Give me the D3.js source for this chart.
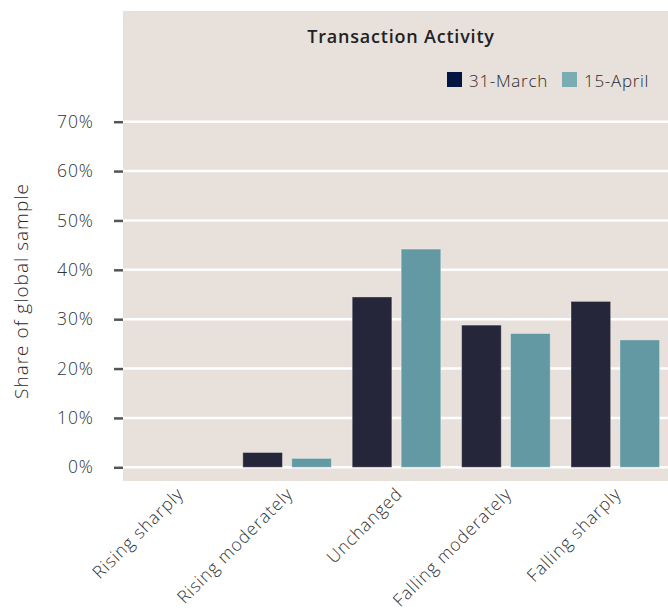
<!DOCTYPE html>
<html>
<head>
<meta charset="utf-8">
<script src="https://cdn.jsdelivr.net/npm/d3@7"></script>
<style>
  body { margin: 0; background: #fff; }
  text { font-family: "Open Sans", Lato, sans-serif; font-weight: 300; }
</style>
</head>
<body>
<script>
// data
var categories = ["Rising sharply", "Rising moderately", "Unchanged", "Falling moderately", "Falling sharply"];
var seriesNames = ["31-March", "15-April"];
var march31 = [0, 3.0, 34.5, 28.8, 33.6];
var april15 = [0, 1.8, 44.2, 27.1, 25.8];
var yTicks = [0, 10, 20, 30, 40, 50, 60, 70];

var width = 668, height = 612;
var panel = {left: 123, right: 668, top: 11, bottom: 481};

var barColor = {"31-March": "#25263a", "15-April": "#6399a3"};
var legendColor = {"31-March": "#011640", "15-April": "#7bacb4"};

var svg = d3.select("body")
    .append("svg")
    .attr("width", width)
    .attr("height", height);

// background panel
svg.append("rect")
    .attr("x", panel.left)
    .attr("y", panel.top)
    .attr("width", panel.right - panel.left)
    .attr("height", panel.bottom - panel.top)
    .style("fill", "#e7e0db");

var x0 = d3.scaleBand()
    .domain(categories)
    .range([123, 670])
    .paddingInner(0.19)
    .paddingOuter(0.095);

var x1 = d3.scaleBand()
    .domain(seriesNames)
    .range([0, x0.bandwidth()])
    .paddingInner(0.19);

var y = d3.scaleLinear()
    .domain([0, 70])
    .range([467.3, 121.7]);

// gridlines
svg.selectAll(".grid")
    .data(yTicks)
    .enter()
    .append("line")
    .attr("class", "grid")
    .attr("x1", panel.left)
    .attr("x2", panel.right)
    .attr("y1", function(d) { return y(d); })
    .attr("y2", function(d) { return y(d); })
    .style("stroke", "#ffffff")
    .style("stroke-width", 2.5);

// y axis
var yAxis = svg.append("g")
    .attr("transform", "translate(" + panel.left + ",0)")
    .call(d3.axisLeft(y)
        .tickValues(yTicks)
        .tickSize(9)
        .tickPadding(20)
        .tickFormat(function(d) { return d + "%"; }));

yAxis.select(".domain").remove();
yAxis.selectAll(".tick line")
    .style("stroke", "#555")
    .style("stroke-width", 2.5);
yAxis.selectAll(".tick text")
    .style("font-family", "'Open Sans', sans-serif")
    .style("font-weight", 300)
    .style("font-size", "17.5px")
    .style("letter-spacing", "1px")
    .style("fill", "#333");

svg.append("text")
    .attr("transform", "translate(28,291) rotate(-90)")
    .style("text-anchor", "middle")
    .style("font-size", "19px")
    .style("letter-spacing", "1px")
    .style("fill", "#2a2a2a")
    .text("Share of global sample");

// bars
var rows = categories.map(function(c, i) {
    return {category: c, values: [
        {series: seriesNames[0], value: march31[i]},
        {series: seriesNames[1], value: april15[i]}
    ]};
});

var group = svg.selectAll(".group")
    .data(rows)
    .enter()
    .append("g")
    .attr("class", "group")
    .attr("transform", function(d) { return "translate(" + x0(d.category) + ",0)"; });

group.selectAll("rect")
    .data(function(d) { return d.values.filter(function(v) { return v.value > 0; }); })
    .enter()
    .append("rect")
    .attr("x", function(d) { return x1(d.series); })
    .attr("y", function(d) { return y(d.value); })
    .attr("width", x1.bandwidth())
    .attr("height", function(d) { return y(0) - y(d.value); })
    .style("fill", function(d) { return barColor[d.series]; })
    .style("stroke", "rgba(255,255,255,0.35)")
    .style("stroke-width", 1);

// x labels
svg.selectAll(".xlabel")
    .data(categories)
    .enter()
    .append("text")
    .attr("class", "xlabel")
    .attr("transform", function(d) {
        return "translate(" + (x0(d) + x0.bandwidth() / 2 + 7) + ",495) rotate(-45)";
    })
    .style("text-anchor", "end")
    .style("font-size", "17.5px")
    .style("letter-spacing", "0.9px")
    .style("fill", "#333")
    .text(function(d) { return d; });

// title
svg.append("text")
    .attr("x", 401)
    .attr("y", 43)
    .style("text-anchor", "middle")
    .style("font-size", "18px")
    .style("font-weight", 600)
    .style("letter-spacing", "0.8px")
    .style("fill", "#222")
    .text("Transaction Activity");

// legend
var legendX = [447, 562];
var legend = svg.selectAll(".legend")
    .data(seriesNames)
    .enter()
    .append("g")
    .attr("class", "legend")
    .attr("transform", function(d, i) { return "translate(" + legendX[i] + ",72)"; });

legend.append("rect")
    .attr("width", 15)
    .attr("height", 15)
    .style("fill", function(d) { return legendColor[d]; });

legend.append("text")
    .attr("x", 22)
    .attr("y", 14.5)
    .style("font-size", "17px")
    .style("letter-spacing", "0.7px")
    .style("fill", "#2a2a2a")
    .text(function(d) { return d; });
</script>
</body>
</html>
